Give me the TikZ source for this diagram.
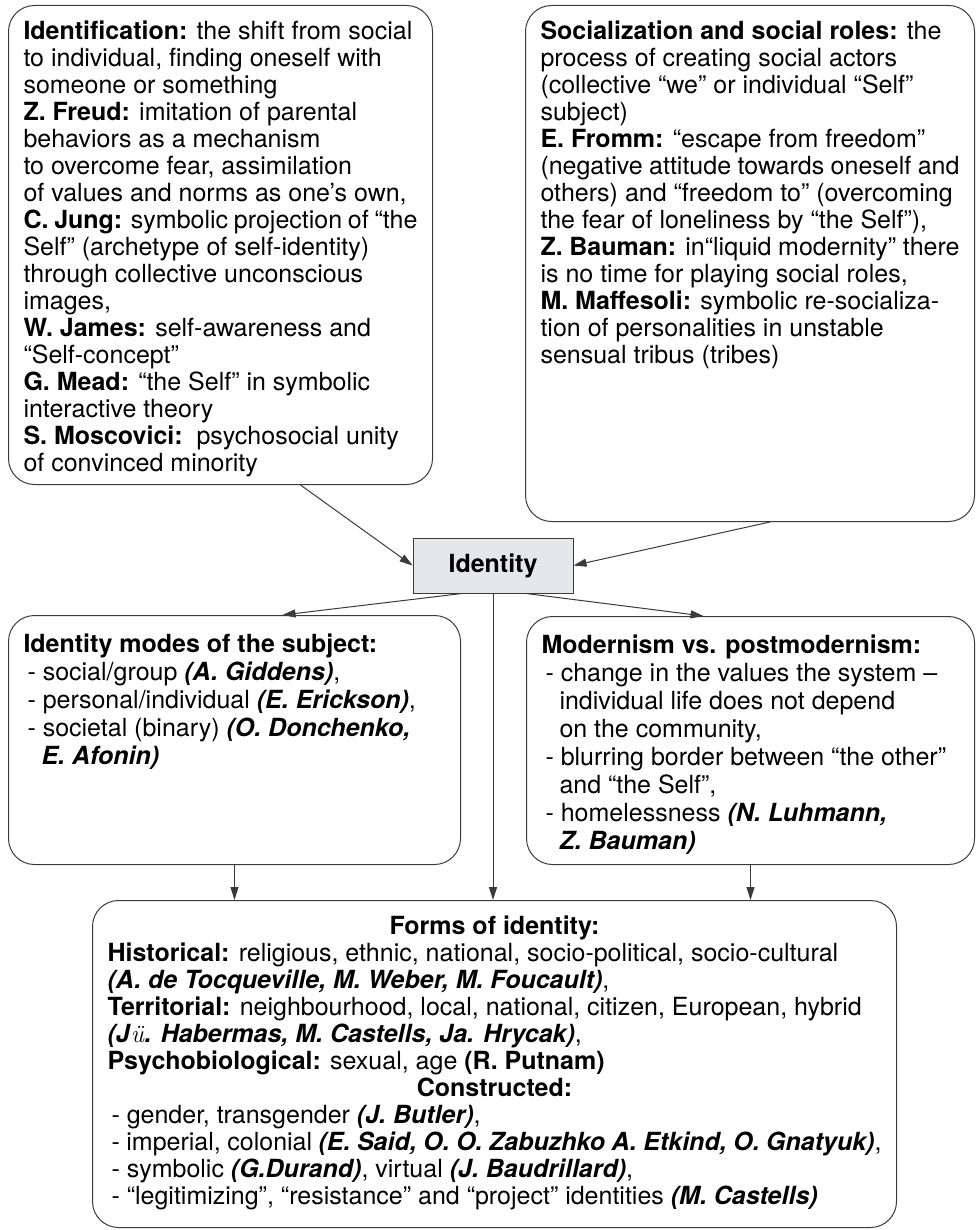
\documentclass[tikz,border=0pt]{standalone}
\usepackage{fontspec}
\setmainfont{TeX Gyre Heros}
\newfontfamily\lmfont{Latin Modern Roman}
\usetikzlibrary{arrows.meta, positioning}
\definecolor{cline}{HTML}{3A3A3A}
\definecolor{cfill}{HTML}{E6E7E9}
\newcommand{\auth}[1]{\textbf{\textit{#1}}}
\newcommand{\boxtext}[3]{\parbox[t][#2pt][t]{#1pt}{#3}}
\tikzset{
  every picture/.style={line width=1pt},
  box/.style={draw=cline, rounded corners=26pt, anchor=north west, inner xsep=15pt, inner ysep=15pt,
    font=\fontsize{25}{27}\selectfont},
  midbox/.style={box, font=\fontsize{25}{28}\selectfont},
  core/.style={draw=cline, fill=cfill, minimum width=160pt, minimum height=55pt, inner sep=0pt,
    font=\fontsize{25}{27}\selectfont\bfseries},
  arrow/.style={-{Triangle[length=13pt, width=8pt]}, draw=cline},
}

\begin{document}
\begin{tikzpicture}[x=1pt, y=-1pt]
  \useasboundingbox (0,0) rectangle (976,1230);
  % upper row
  \node[box] (ident) at (8,5) {\boxtext{394}{449}{%
    \textbf{Identification:} the shift from social\\
    to individual, finding oneself with\\
    someone or something\\
    \textbf{Z. Freud:} imitation of parental\\
    behaviors as a mechanism\\
    to overcome fear, assimilation\\
    of values and norms as one’s own,\\
    \textbf{C. Jung:} symbolic projection of “the\\
    Self” (archetype of self-identity)\\
    through collective unconscious\\
    images,\\
    \textbf{W. James:} self-awareness and\\
    “Self-concept”\\
    \textbf{G. Mead:} “the Self” in symbolic\\
    interactive theory\\
    \textbf{S. Moscovici:}\ \ psychosocial unity\\
    of convinced minority}};
  \node[box] (social) at (525,5) {\boxtext{419}{486}{%
    \textbf{Socialization and social roles:} the\\
    process of creating social actors\\
    (collective “we” or individual “Self”\\
    subject)\\
    \textbf{E. Fromm:} “escape from freedom”\\
    (negative attitude towards oneself and\\
    others) and “freedom to” (overcoming\\
    the fear of loneliness by “the Self”),\\
    \textbf{Z. Bauman:} in“liquid modernity” there\\
    is no time for playing social roles,\\
    \textbf{M. Maffesoli:} symbolic re-socializa-\\
    tion of personalities in unstable\\
    sensual tribus (tribes)}};
  % centre
  \node[core] (identity) at (493,565.5) {Identity};
  % middle row
  \node[midbox] (modes) at (8,615) {\boxtext{422}{219}{%
    \vspace*{3pt}
    \textbf{Identity modes of the subject:}\\
    \hspace*{4pt}- social/group \auth{(A. Giddens)},\\
    \hspace*{4pt}- personal/individual \auth{(E. Erickson)},\\
    \hspace*{4pt}- societal (binary) \auth{(O. Donchenko,}\\
    \hspace*{18pt}\auth{E. Afonin)}}};
  \node[midbox] (modern) at (526,616) {\boxtext{418}{218}{%
    \vspace*{3pt}
    \textbf{Modernism vs. postmodernism:}\\
    \hspace*{4pt}- change in the values the system –\\
    \hspace*{18pt}individual life does not depend\\
    \hspace*{18pt}on the community,\\
    \hspace*{4pt}- blurring border between “the other”\\
    \hspace*{18pt}and “the Self”,\\
    \hspace*{4pt}- homelessness \auth{(N. Luhmann,}\\
    \hspace*{18pt}\auth{Z. Bauman)}}};
  % lower row
  \node[box] (forms) at (92,900) {\boxtext{774}{297}{%
    \makebox[\linewidth]{\textbf{Forms of identity:}}\\
    \textbf{Historical:} religious, ethnic, national, socio-political, socio-cultural\\
    \auth{(A. de Tocqueville, M. Weber, M. Foucault)},\\
    \textbf{Territorial:} neighbourhood, local, national, citizen, European, hybrid\\
    \auth{(J}{\lmfont\itshape ü}\auth{. Habermas, M. Castells, Ja. Hrycak)},\\
    \textbf{Psychobiological:} sexual, age \textbf{(R. Putnam)}\\
    \makebox[\linewidth]{\textbf{Constructed:}}\\
    \hspace*{4pt}- gender, transgender \auth{(J. Butler)},\\
    \hspace*{4pt}- imperial, colonial \auth{(E. Said, O. O. Zabuzhko A. Etkind, O. Gnatyuk)},\\
    \hspace*{4pt}- symbolic \auth{(G.Durand)}, virtual \auth{(J. Baudrillard)},\\
    \hspace*{4pt}- “legitimizing”, “resistance” and “project” identities \auth{(M. Castells)}}};
  % connectors
  \draw[arrow] ([xshift=80pt]ident.south) -- (identity.west);
  \draw[arrow] ([xshift=20pt]social.south) -- (identity.east);
  \draw[arrow] ([xshift=-31pt]identity.south) -- ([xshift=48pt]modes.north);
  \draw[arrow] ([xshift=33pt]identity.south) -- ([xshift=-47pt]modern.north);
  \draw[arrow] (identity.south) -- (identity.south |- forms.north);
  \draw[arrow] (modes.south) -- (modes.south |- forms.north);
  \draw[arrow] (modern.south) -- (modern.south |- forms.north);
\end{tikzpicture}
\end{document}
